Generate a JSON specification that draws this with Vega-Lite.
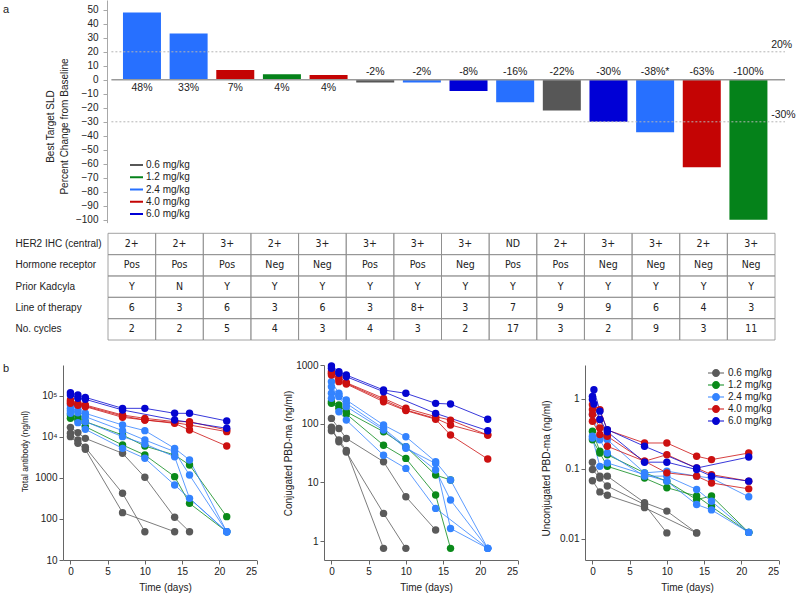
{
  "$schema": "https://vega.github.io/schema/vega-lite/v6.json",
  "autosize": "none",
  "padding": {"left": 63, "top": 0, "right": 737, "bottom": 595},
  "background": "white",
  "datasets": {
    "bars": [
      {"i": 1, "v": 48, "d": "2.4 mg/kg", "lab": "48%"},
      {"i": 2, "v": 33, "d": "2.4 mg/kg", "lab": "33%"},
      {"i": 3, "v": 7, "d": "4.0 mg/kg", "lab": "7%"},
      {"i": 4, "v": 4, "d": "1.2 mg/kg", "lab": "4%"},
      {"i": 5, "v": 3.5, "d": "4.0 mg/kg", "lab": "4%"},
      {"i": 6, "v": -2, "d": "0.6 mg/kg", "lab": "-2%"},
      {"i": 7, "v": -2, "d": "2.4 mg/kg", "lab": "-2%"},
      {"i": 8, "v": -8, "d": "6.0 mg/kg", "lab": "-8%"},
      {"i": 9, "v": -16, "d": "2.4 mg/kg", "lab": "-16%"},
      {"i": 10, "v": -22, "d": "0.6 mg/kg", "lab": "-22%"},
      {"i": 11, "v": -30, "d": "6.0 mg/kg", "lab": "-30%"},
      {"i": 12, "v": -37.5, "d": "2.4 mg/kg", "lab": "-38%*"},
      {"i": 13, "v": -62.5, "d": "4.0 mg/kg", "lab": "-63%"},
      {"i": 14, "v": -100, "d": "1.2 mg/kg", "lab": "-100%"}
    ],
    "refs": [
      {"ref": 20, "lab": "20%"},
      {"ref": -30, "lab": "-30%"},
      {"ref": 0, "lab": ""}
    ],
    "table": [
      {"r": "HER2 IHC (central)", "i": 1, "c": "2+"}, {"r": "HER2 IHC (central)", "i": 2, "c": "2+"},
      {"r": "HER2 IHC (central)", "i": 3, "c": "3+"}, {"r": "HER2 IHC (central)", "i": 4, "c": "2+"},
      {"r": "HER2 IHC (central)", "i": 5, "c": "3+"}, {"r": "HER2 IHC (central)", "i": 6, "c": "3+"},
      {"r": "HER2 IHC (central)", "i": 7, "c": "3+"}, {"r": "HER2 IHC (central)", "i": 8, "c": "3+"},
      {"r": "HER2 IHC (central)", "i": 9, "c": "ND"}, {"r": "HER2 IHC (central)", "i": 10, "c": "2+"},
      {"r": "HER2 IHC (central)", "i": 11, "c": "3+"}, {"r": "HER2 IHC (central)", "i": 12, "c": "3+"},
      {"r": "HER2 IHC (central)", "i": 13, "c": "2+"}, {"r": "HER2 IHC (central)", "i": 14, "c": "3+"},
      {"r": "Hormone receptor", "i": 1, "c": "Pos"}, {"r": "Hormone receptor", "i": 2, "c": "Pos"},
      {"r": "Hormone receptor", "i": 3, "c": "Pos"}, {"r": "Hormone receptor", "i": 4, "c": "Neg"},
      {"r": "Hormone receptor", "i": 5, "c": "Neg"}, {"r": "Hormone receptor", "i": 6, "c": "Pos"},
      {"r": "Hormone receptor", "i": 7, "c": "Pos"}, {"r": "Hormone receptor", "i": 8, "c": "Neg"},
      {"r": "Hormone receptor", "i": 9, "c": "Pos"}, {"r": "Hormone receptor", "i": 10, "c": "Pos"},
      {"r": "Hormone receptor", "i": 11, "c": "Neg"}, {"r": "Hormone receptor", "i": 12, "c": "Neg"},
      {"r": "Hormone receptor", "i": 13, "c": "Neg"}, {"r": "Hormone receptor", "i": 14, "c": "Neg"},
      {"r": "Prior Kadcyla", "i": 1, "c": "Y"}, {"r": "Prior Kadcyla", "i": 2, "c": "N"},
      {"r": "Prior Kadcyla", "i": 3, "c": "Y"}, {"r": "Prior Kadcyla", "i": 4, "c": "Y"},
      {"r": "Prior Kadcyla", "i": 5, "c": "Y"}, {"r": "Prior Kadcyla", "i": 6, "c": "Y"},
      {"r": "Prior Kadcyla", "i": 7, "c": "Y"}, {"r": "Prior Kadcyla", "i": 8, "c": "Y"},
      {"r": "Prior Kadcyla", "i": 9, "c": "Y"}, {"r": "Prior Kadcyla", "i": 10, "c": "Y"},
      {"r": "Prior Kadcyla", "i": 11, "c": "Y"}, {"r": "Prior Kadcyla", "i": 12, "c": "Y"},
      {"r": "Prior Kadcyla", "i": 13, "c": "Y"}, {"r": "Prior Kadcyla", "i": 14, "c": "Y"},
      {"r": "Line of therapy", "i": 1, "c": "6"}, {"r": "Line of therapy", "i": 2, "c": "3"},
      {"r": "Line of therapy", "i": 3, "c": "6"}, {"r": "Line of therapy", "i": 4, "c": "3"},
      {"r": "Line of therapy", "i": 5, "c": "6"}, {"r": "Line of therapy", "i": 6, "c": "3"},
      {"r": "Line of therapy", "i": 7, "c": "8+"}, {"r": "Line of therapy", "i": 8, "c": "3"},
      {"r": "Line of therapy", "i": 9, "c": "7"}, {"r": "Line of therapy", "i": 10, "c": "9"},
      {"r": "Line of therapy", "i": 11, "c": "9"}, {"r": "Line of therapy", "i": 12, "c": "6"},
      {"r": "Line of therapy", "i": 13, "c": "4"}, {"r": "Line of therapy", "i": 14, "c": "3"},
      {"r": "No. cycles", "i": 1, "c": "2"}, {"r": "No. cycles", "i": 2, "c": "2"},
      {"r": "No. cycles", "i": 3, "c": "5"}, {"r": "No. cycles", "i": 4, "c": "4"},
      {"r": "No. cycles", "i": 5, "c": "3"}, {"r": "No. cycles", "i": 6, "c": "4"},
      {"r": "No. cycles", "i": 7, "c": "3"}, {"r": "No. cycles", "i": 8, "c": "2"},
      {"r": "No. cycles", "i": 9, "c": "17"}, {"r": "No. cycles", "i": 10, "c": "3"},
      {"r": "No. cycles", "i": 11, "c": "2"}, {"r": "No. cycles", "i": 12, "c": "9"},
      {"r": "No. cycles", "i": 13, "c": "3"}, {"r": "No. cycles", "i": 14, "c": "11"}
    ],
    "pk": [
      {"a": "T", "p": "K1", "d": "0.6 mg/kg", "t": 0, "v": 17200}, {"a": "T", "p": "K1", "d": "0.6 mg/kg", "t": 1, "v": 12800},
      {"a": "T", "p": "K1", "d": "0.6 mg/kg", "t": 2, "v": 9270}, {"a": "T", "p": "K1", "d": "0.6 mg/kg", "t": 7, "v": 4000},
      {"a": "T", "p": "K1", "d": "0.6 mg/kg", "t": 10, "v": 1040}, {"a": "T", "p": "K1", "d": "0.6 mg/kg", "t": 14, "v": 110},
      {"a": "T", "p": "K1", "d": "0.6 mg/kg", "t": 16, "v": 49},
      {"a": "T", "p": "K2", "d": "0.6 mg/kg", "t": 0, "v": 12300}, {"a": "T", "p": "K2", "d": "0.6 mg/kg", "t": 1, "v": 8450},
      {"a": "T", "p": "K2", "d": "0.6 mg/kg", "t": 2, "v": 5600}, {"a": "T", "p": "K2", "d": "0.6 mg/kg", "t": 7, "v": 423},
      {"a": "T", "p": "K2", "d": "0.6 mg/kg", "t": 10, "v": 49},
      {"a": "T", "p": "K3", "d": "0.6 mg/kg", "t": 0, "v": 10200}, {"a": "T", "p": "K3", "d": "0.6 mg/kg", "t": 1, "v": 7010},
      {"a": "T", "p": "K3", "d": "0.6 mg/kg", "t": 2, "v": 5000}, {"a": "T", "p": "K3", "d": "0.6 mg/kg", "t": 7, "v": 143},
      {"a": "T", "p": "K3", "d": "0.6 mg/kg", "t": 14, "v": 49},
      {"a": "T", "p": "G1", "d": "1.2 mg/kg", "t": 0, "v": 34400}, {"a": "T", "p": "G1", "d": "1.2 mg/kg", "t": 1, "v": 31300},
      {"a": "T", "p": "G1", "d": "1.2 mg/kg", "t": 2, "v": 23700}, {"a": "T", "p": "G1", "d": "1.2 mg/kg", "t": 7, "v": 11200},
      {"a": "T", "p": "G1", "d": "1.2 mg/kg", "t": 10, "v": 6000}, {"a": "T", "p": "G1", "d": "1.2 mg/kg", "t": 14, "v": 3640},
      {"a": "T", "p": "G1", "d": "1.2 mg/kg", "t": 16, "v": 2080}, {"a": "T", "p": "G1", "d": "1.2 mg/kg", "t": 21, "v": 114},
      {"a": "T", "p": "G2", "d": "1.2 mg/kg", "t": 0, "v": 28500}, {"a": "T", "p": "G2", "d": "1.2 mg/kg", "t": 1, "v": 26000},
      {"a": "T", "p": "G2", "d": "1.2 mg/kg", "t": 2, "v": 17900}, {"a": "T", "p": "G2", "d": "1.2 mg/kg", "t": 7, "v": 6380},
      {"a": "T", "p": "G2", "d": "1.2 mg/kg", "t": 10, "v": 3640}, {"a": "T", "p": "G2", "d": "1.2 mg/kg", "t": 14, "v": 1080},
      {"a": "T", "p": "G2", "d": "1.2 mg/kg", "t": 16, "v": 241}, {"a": "T", "p": "G2", "d": "1.2 mg/kg", "t": 21, "v": 49},
      {"a": "T", "p": "B1", "d": "2.4 mg/kg", "t": 0, "v": 60300}, {"a": "T", "p": "B1", "d": "2.4 mg/kg", "t": 1, "v": 54900},
      {"a": "T", "p": "B1", "d": "2.4 mg/kg", "t": 2, "v": 37800}, {"a": "T", "p": "B1", "d": "2.4 mg/kg", "t": 7, "v": 19600},
      {"a": "T", "p": "B1", "d": "2.4 mg/kg", "t": 10, "v": 14300}, {"a": "T", "p": "B1", "d": "2.4 mg/kg", "t": 14, "v": 5290},
      {"a": "T", "p": "B1", "d": "2.4 mg/kg", "t": 16, "v": 2750}, {"a": "T", "p": "B1", "d": "2.4 mg/kg", "t": 21, "v": 49},
      {"a": "T", "p": "B2", "d": "2.4 mg/kg", "t": 0, "v": 50000}, {"a": "T", "p": "B2", "d": "2.4 mg/kg", "t": 1, "v": 43900},
      {"a": "T", "p": "B2", "d": "2.4 mg/kg", "t": 2, "v": 31300}, {"a": "T", "p": "B2", "d": "2.4 mg/kg", "t": 7, "v": 14300},
      {"a": "T", "p": "B2", "d": "2.4 mg/kg", "t": 10, "v": 8450}, {"a": "T", "p": "B2", "d": "2.4 mg/kg", "t": 14, "v": 4390},
      {"a": "T", "p": "B2", "d": "2.4 mg/kg", "t": 16, "v": 1180}, {"a": "T", "p": "B2", "d": "2.4 mg/kg", "t": 21, "v": 49},
      {"a": "T", "p": "B3", "d": "2.4 mg/kg", "t": 0, "v": 43900}, {"a": "T", "p": "B3", "d": "2.4 mg/kg", "t": 1, "v": 39200},
      {"a": "T", "p": "B3", "d": "2.4 mg/kg", "t": 2, "v": 23700}, {"a": "T", "p": "B3", "d": "2.4 mg/kg", "t": 7, "v": 10200},
      {"a": "T", "p": "B3", "d": "2.4 mg/kg", "t": 10, "v": 6750}, {"a": "T", "p": "B3", "d": "2.4 mg/kg", "t": 14, "v": 3310},
      {"a": "T", "p": "B3", "d": "2.4 mg/kg", "t": 16, "v": 319}, {"a": "T", "p": "B3", "d": "2.4 mg/kg", "t": 21, "v": 49},
      {"a": "T", "p": "B4", "d": "2.4 mg/kg", "t": 0, "v": 37800}, {"a": "T", "p": "B4", "d": "2.4 mg/kg", "t": 1, "v": 22400},
      {"a": "T", "p": "B4", "d": "2.4 mg/kg", "t": 2, "v": 15400}, {"a": "T", "p": "B4", "d": "2.4 mg/kg", "t": 7, "v": 5290},
      {"a": "T", "p": "B4", "d": "2.4 mg/kg", "t": 10, "v": 3020}, {"a": "T", "p": "B4", "d": "2.4 mg/kg", "t": 14, "v": 675},
      {"a": "T", "p": "B4", "d": "2.4 mg/kg", "t": 21, "v": 49},
      {"a": "T", "p": "R1", "d": "4.0 mg/kg", "t": 0, "v": 79900}, {"a": "T", "p": "R1", "d": "4.0 mg/kg", "t": 1, "v": 66200},
      {"a": "T", "p": "R1", "d": "4.0 mg/kg", "t": 2, "v": 60300}, {"a": "T", "p": "R1", "d": "4.0 mg/kg", "t": 7, "v": 34400},
      {"a": "T", "p": "R1", "d": "4.0 mg/kg", "t": 10, "v": 28500}, {"a": "T", "p": "R1", "d": "4.0 mg/kg", "t": 14, "v": 23700},
      {"a": "T", "p": "R1", "d": "4.0 mg/kg", "t": 16, "v": 23700}, {"a": "T", "p": "R1", "d": "4.0 mg/kg", "t": 21, "v": 14800},
      {"a": "T", "p": "R2", "d": "4.0 mg/kg", "t": 0, "v": 72800}, {"a": "T", "p": "R2", "d": "4.0 mg/kg", "t": 1, "v": 62600},
      {"a": "T", "p": "R2", "d": "4.0 mg/kg", "t": 2, "v": 57000}, {"a": "T", "p": "R2", "d": "4.0 mg/kg", "t": 7, "v": 32500},
      {"a": "T", "p": "R2", "d": "4.0 mg/kg", "t": 10, "v": 26000}, {"a": "T", "p": "R2", "d": "4.0 mg/kg", "t": 14, "v": 22400},
      {"a": "T", "p": "R2", "d": "4.0 mg/kg", "t": 16, "v": 19600}, {"a": "T", "p": "R2", "d": "4.0 mg/kg", "t": 21, "v": 13500},
      {"a": "T", "p": "R3", "d": "4.0 mg/kg", "t": 0, "v": 66200}, {"a": "T", "p": "R3", "d": "4.0 mg/kg", "t": 1, "v": 59200},
      {"a": "T", "p": "R3", "d": "4.0 mg/kg", "t": 2, "v": 54900}, {"a": "T", "p": "R3", "d": "4.0 mg/kg", "t": 7, "v": 30200},
      {"a": "T", "p": "R3", "d": "4.0 mg/kg", "t": 10, "v": 26000}, {"a": "T", "p": "R3", "d": "4.0 mg/kg", "t": 14, "v": 21500},
      {"a": "T", "p": "R3", "d": "4.0 mg/kg", "t": 16, "v": 14800}, {"a": "T", "p": "R3", "d": "4.0 mg/kg", "t": 21, "v": 6030},
      {"a": "T", "p": "D1", "d": "6.0 mg/kg", "t": 0, "v": 120500}, {"a": "T", "p": "D1", "d": "6.0 mg/kg", "t": 1, "v": 105700},
      {"a": "T", "p": "D1", "d": "6.0 mg/kg", "t": 2, "v": 92700}, {"a": "T", "p": "D1", "d": "6.0 mg/kg", "t": 7, "v": 50000},
      {"a": "T", "p": "D1", "d": "6.0 mg/kg", "t": 10, "v": 50000}, {"a": "T", "p": "D1", "d": "6.0 mg/kg", "t": 14, "v": 37800},
      {"a": "T", "p": "D1", "d": "6.0 mg/kg", "t": 16, "v": 37800}, {"a": "T", "p": "D1", "d": "6.0 mg/kg", "t": 21, "v": 24600},
      {"a": "T", "p": "D2", "d": "6.0 mg/kg", "t": 0, "v": 105700}, {"a": "T", "p": "D2", "d": "6.0 mg/kg", "t": 1, "v": 87700},
      {"a": "T", "p": "D2", "d": "6.0 mg/kg", "t": 2, "v": 83000}, {"a": "T", "p": "D2", "d": "6.0 mg/kg", "t": 7, "v": 45600},
      {"a": "T", "p": "D2", "d": "6.0 mg/kg", "t": 14, "v": 26000}, {"a": "T", "p": "D2", "d": "6.0 mg/kg", "t": 21, "v": 16300},

      {"a": "C", "p": "K1", "d": "0.6 mg/kg", "t": 0, "v": 123}, {"a": "C", "p": "K1", "d": "0.6 mg/kg", "t": 1, "v": 83},
      {"a": "C", "p": "K1", "d": "0.6 mg/kg", "t": 2, "v": 56}, {"a": "C", "p": "K1", "d": "0.6 mg/kg", "t": 7, "v": 22.5},
      {"a": "C", "p": "K1", "d": "0.6 mg/kg", "t": 10, "v": 5.7}, {"a": "C", "p": "K1", "d": "0.6 mg/kg", "t": 14, "v": 1.54},
      {"a": "C", "p": "K2", "d": "0.6 mg/kg", "t": 0, "v": 87}, {"a": "C", "p": "K2", "d": "0.6 mg/kg", "t": 1, "v": 49},
      {"a": "C", "p": "K2", "d": "0.6 mg/kg", "t": 2, "v": 33}, {"a": "C", "p": "K2", "d": "0.6 mg/kg", "t": 7, "v": 2.96},
      {"a": "C", "p": "K2", "d": "0.6 mg/kg", "t": 10, "v": 0.75},
      {"a": "C", "p": "K3", "d": "0.6 mg/kg", "t": 0, "v": 76}, {"a": "C", "p": "K3", "d": "0.6 mg/kg", "t": 1, "v": 53},
      {"a": "C", "p": "K3", "d": "0.6 mg/kg", "t": 2, "v": 35}, {"a": "C", "p": "K3", "d": "0.6 mg/kg", "t": 7, "v": 0.75},
      {"a": "C", "p": "G1", "d": "1.2 mg/kg", "t": 0, "v": 237}, {"a": "C", "p": "G1", "d": "1.2 mg/kg", "t": 1, "v": 208},
      {"a": "C", "p": "G1", "d": "1.2 mg/kg", "t": 2, "v": 160}, {"a": "C", "p": "G1", "d": "1.2 mg/kg", "t": 7, "v": 73},
      {"a": "C", "p": "G1", "d": "1.2 mg/kg", "t": 10, "v": 40.5}, {"a": "C", "p": "G1", "d": "1.2 mg/kg", "t": 14, "v": 13.3},
      {"a": "C", "p": "G1", "d": "1.2 mg/kg", "t": 16, "v": 11},
      {"a": "C", "p": "G2", "d": "1.2 mg/kg", "t": 0, "v": 222}, {"a": "C", "p": "G2", "d": "1.2 mg/kg", "t": 1, "v": 183},
      {"a": "C", "p": "G2", "d": "1.2 mg/kg", "t": 2, "v": 146}, {"a": "C", "p": "G2", "d": "1.2 mg/kg", "t": 7, "v": 43},
      {"a": "C", "p": "G2", "d": "1.2 mg/kg", "t": 10, "v": 25.6}, {"a": "C", "p": "G2", "d": "1.2 mg/kg", "t": 14, "v": 6.1},
      {"a": "C", "p": "G2", "d": "1.2 mg/kg", "t": 16, "v": 0.75},
      {"a": "C", "p": "B1", "d": "2.4 mg/kg", "t": 0, "v": 520}, {"a": "C", "p": "B1", "d": "2.4 mg/kg", "t": 1, "v": 329},
      {"a": "C", "p": "B1", "d": "2.4 mg/kg", "t": 2, "v": 253}, {"a": "C", "p": "B1", "d": "2.4 mg/kg", "t": 7, "v": 95},
      {"a": "C", "p": "B1", "d": "2.4 mg/kg", "t": 10, "v": 60}, {"a": "C", "p": "B1", "d": "2.4 mg/kg", "t": 14, "v": 22.5},
      {"a": "C", "p": "B1", "d": "2.4 mg/kg", "t": 16, "v": 11}, {"a": "C", "p": "B1", "d": "2.4 mg/kg", "t": 21, "v": 0.75},
      {"a": "C", "p": "B2", "d": "2.4 mg/kg", "t": 0, "v": 427}, {"a": "C", "p": "B2", "d": "2.4 mg/kg", "t": 1, "v": 308},
      {"a": "C", "p": "B2", "d": "2.4 mg/kg", "t": 2, "v": 222}, {"a": "C", "p": "B2", "d": "2.4 mg/kg", "t": 7, "v": 83},
      {"a": "C", "p": "B2", "d": "2.4 mg/kg", "t": 10, "v": 40.5}, {"a": "C", "p": "B2", "d": "2.4 mg/kg", "t": 14, "v": 16.2},
      {"a": "C", "p": "B2", "d": "2.4 mg/kg", "t": 16, "v": 5.0}, {"a": "C", "p": "B2", "d": "2.4 mg/kg", "t": 21, "v": 0.75},
      {"a": "C", "p": "B3", "d": "2.4 mg/kg", "t": 0, "v": 329}, {"a": "C", "p": "B3", "d": "2.4 mg/kg", "t": 1, "v": 289},
      {"a": "C", "p": "B3", "d": "2.4 mg/kg", "t": 2, "v": 195}, {"a": "C", "p": "B3", "d": "2.4 mg/kg", "t": 7, "v": 78},
      {"a": "C", "p": "B3", "d": "2.4 mg/kg", "t": 10, "v": 38}, {"a": "C", "p": "B3", "d": "2.4 mg/kg", "t": 14, "v": 21},
      {"a": "C", "p": "B3", "d": "2.4 mg/kg", "t": 16, "v": 1.64}, {"a": "C", "p": "B3", "d": "2.4 mg/kg", "t": 21, "v": 0.75},
      {"a": "C", "p": "B4", "d": "2.4 mg/kg", "t": 0, "v": 270}, {"a": "C", "p": "B4", "d": "2.4 mg/kg", "t": 1, "v": 160},
      {"a": "C", "p": "B4", "d": "2.4 mg/kg", "t": 2, "v": 115}, {"a": "C", "p": "B4", "d": "2.4 mg/kg", "t": 7, "v": 29},
      {"a": "C", "p": "B4", "d": "2.4 mg/kg", "t": 10, "v": 17.3}, {"a": "C", "p": "B4", "d": "2.4 mg/kg", "t": 14, "v": 3.6},
      {"a": "C", "p": "B4", "d": "2.4 mg/kg", "t": 21, "v": 0.75},
      {"a": "C", "p": "R1", "d": "4.0 mg/kg", "t": 0, "v": 769}, {"a": "C", "p": "R1", "d": "4.0 mg/kg", "t": 1, "v": 632},
      {"a": "C", "p": "R1", "d": "4.0 mg/kg", "t": 2, "v": 500}, {"a": "C", "p": "R1", "d": "4.0 mg/kg", "t": 7, "v": 270},
      {"a": "C", "p": "R1", "d": "4.0 mg/kg", "t": 10, "v": 183}, {"a": "C", "p": "R1", "d": "4.0 mg/kg", "t": 14, "v": 132},
      {"a": "C", "p": "R1", "d": "4.0 mg/kg", "t": 16, "v": 115}, {"a": "C", "p": "R1", "d": "4.0 mg/kg", "t": 21, "v": 64},
      {"a": "C", "p": "R2", "d": "4.0 mg/kg", "t": 0, "v": 721}, {"a": "C", "p": "R2", "d": "4.0 mg/kg", "t": 1, "v": 570},
      {"a": "C", "p": "R2", "d": "4.0 mg/kg", "t": 2, "v": 487}, {"a": "C", "p": "R2", "d": "4.0 mg/kg", "t": 7, "v": 253},
      {"a": "C", "p": "R2", "d": "4.0 mg/kg", "t": 10, "v": 171}, {"a": "C", "p": "R2", "d": "4.0 mg/kg", "t": 14, "v": 123},
      {"a": "C", "p": "R2", "d": "4.0 mg/kg", "t": 16, "v": 95}, {"a": "C", "p": "R2", "d": "4.0 mg/kg", "t": 21, "v": 64},
      {"a": "C", "p": "R3", "d": "4.0 mg/kg", "t": 0, "v": 675}, {"a": "C", "p": "R3", "d": "4.0 mg/kg", "t": 1, "v": 520},
      {"a": "C", "p": "R3", "d": "4.0 mg/kg", "t": 2, "v": 474}, {"a": "C", "p": "R3", "d": "4.0 mg/kg", "t": 7, "v": 237},
      {"a": "C", "p": "R3", "d": "4.0 mg/kg", "t": 10, "v": 167}, {"a": "C", "p": "R3", "d": "4.0 mg/kg", "t": 14, "v": 119},
      {"a": "C", "p": "R3", "d": "4.0 mg/kg", "t": 16, "v": 64}, {"a": "C", "p": "R3", "d": "4.0 mg/kg", "t": 21, "v": 25},
      {"a": "C", "p": "D1", "d": "6.0 mg/kg", "t": 0, "v": 961}, {"a": "C", "p": "D1", "d": "6.0 mg/kg", "t": 1, "v": 769},
      {"a": "C", "p": "D1", "d": "6.0 mg/kg", "t": 2, "v": 675}, {"a": "C", "p": "D1", "d": "6.0 mg/kg", "t": 7, "v": 375},
      {"a": "C", "p": "D1", "d": "6.0 mg/kg", "t": 10, "v": 329}, {"a": "C", "p": "D1", "d": "6.0 mg/kg", "t": 14, "v": 222},
      {"a": "C", "p": "D1", "d": "6.0 mg/kg", "t": 16, "v": 216}, {"a": "C", "p": "D1", "d": "6.0 mg/kg", "t": 21, "v": 119},
      {"a": "C", "p": "D2", "d": "6.0 mg/kg", "t": 0, "v": 877}, {"a": "C", "p": "D2", "d": "6.0 mg/kg", "t": 1, "v": 721},
      {"a": "C", "p": "D2", "d": "6.0 mg/kg", "t": 2, "v": 632}, {"a": "C", "p": "D2", "d": "6.0 mg/kg", "t": 7, "v": 351},
      {"a": "C", "p": "D2", "d": "6.0 mg/kg", "t": 14, "v": 150}, {"a": "C", "p": "D2", "d": "6.0 mg/kg", "t": 21, "v": 76},

      {"a": "U", "p": "K1", "d": "0.6 mg/kg", "t": 0, "v": 0.125}, {"a": "U", "p": "K1", "d": "0.6 mg/kg", "t": 1, "v": 0.079},
      {"a": "U", "p": "K1", "d": "0.6 mg/kg", "t": 2, "v": 0.079}, {"a": "U", "p": "K1", "d": "0.6 mg/kg", "t": 7, "v": 0.033},
      {"a": "U", "p": "K1", "d": "0.6 mg/kg", "t": 10, "v": 0.025}, {"a": "U", "p": "K1", "d": "0.6 mg/kg", "t": 14, "v": 0.0122},
      {"a": "U", "p": "K2", "d": "0.6 mg/kg", "t": 0, "v": 0.098}, {"a": "U", "p": "K2", "d": "0.6 mg/kg", "t": 1, "v": 0.074},
      {"a": "U", "p": "K2", "d": "0.6 mg/kg", "t": 2, "v": 0.057}, {"a": "U", "p": "K2", "d": "0.6 mg/kg", "t": 7, "v": 0.031},
      {"a": "U", "p": "K2", "d": "0.6 mg/kg", "t": 10, "v": 0.0122},
      {"a": "U", "p": "K3", "d": "0.6 mg/kg", "t": 0, "v": 0.068}, {"a": "U", "p": "K3", "d": "0.6 mg/kg", "t": 1, "v": 0.047},
      {"a": "U", "p": "K3", "d": "0.6 mg/kg", "t": 2, "v": 0.042}, {"a": "U", "p": "K3", "d": "0.6 mg/kg", "t": 7, "v": 0.028},
      {"a": "U", "p": "K3", "d": "0.6 mg/kg", "t": 14, "v": 0.0122},
      {"a": "U", "p": "G1", "d": "1.2 mg/kg", "t": 0, "v": 0.345}, {"a": "U", "p": "G1", "d": "1.2 mg/kg", "t": 1, "v": 0.179},
      {"a": "U", "p": "G1", "d": "1.2 mg/kg", "t": 2, "v": 0.16}, {"a": "U", "p": "G1", "d": "1.2 mg/kg", "t": 7, "v": 0.088},
      {"a": "U", "p": "G1", "d": "1.2 mg/kg", "t": 10, "v": 0.067}, {"a": "U", "p": "G1", "d": "1.2 mg/kg", "t": 14, "v": 0.0365},
      {"a": "U", "p": "G1", "d": "1.2 mg/kg", "t": 16, "v": 0.041}, {"a": "U", "p": "G1", "d": "1.2 mg/kg", "t": 21, "v": 0.0124},
      {"a": "U", "p": "G2", "d": "1.2 mg/kg", "t": 0, "v": 0.262}, {"a": "U", "p": "G2", "d": "1.2 mg/kg", "t": 1, "v": 0.169},
      {"a": "U", "p": "G2", "d": "1.2 mg/kg", "t": 2, "v": 0.109}, {"a": "U", "p": "G2", "d": "1.2 mg/kg", "t": 7, "v": 0.074},
      {"a": "U", "p": "G2", "d": "1.2 mg/kg", "t": 10, "v": 0.054}, {"a": "U", "p": "G2", "d": "1.2 mg/kg", "t": 14, "v": 0.041},
      {"a": "U", "p": "G2", "d": "1.2 mg/kg", "t": 16, "v": 0.029}, {"a": "U", "p": "G2", "d": "1.2 mg/kg", "t": 21, "v": 0.0124},
      {"a": "U", "p": "B1", "d": "2.4 mg/kg", "t": 0, "v": 0.6}, {"a": "U", "p": "B1", "d": "2.4 mg/kg", "t": 1, "v": 0.293},
      {"a": "U", "p": "B1", "d": "2.4 mg/kg", "t": 2, "v": 0.262}, {"a": "U", "p": "B1", "d": "2.4 mg/kg", "t": 7, "v": 0.088},
      {"a": "U", "p": "B1", "d": "2.4 mg/kg", "t": 10, "v": 0.093}, {"a": "U", "p": "B1", "d": "2.4 mg/kg", "t": 14, "v": 0.079},
      {"a": "U", "p": "B1", "d": "2.4 mg/kg", "t": 16, "v": 0.074}, {"a": "U", "p": "B1", "d": "2.4 mg/kg", "t": 21, "v": 0.04},
      {"a": "U", "p": "B2", "d": "2.4 mg/kg", "t": 0, "v": 0.293}, {"a": "U", "p": "B2", "d": "2.4 mg/kg", "t": 1, "v": 0.262},
      {"a": "U", "p": "B2", "d": "2.4 mg/kg", "t": 2, "v": 0.169}, {"a": "U", "p": "B2", "d": "2.4 mg/kg", "t": 7, "v": 0.079},
      {"a": "U", "p": "B2", "d": "2.4 mg/kg", "t": 10, "v": 0.079}, {"a": "U", "p": "B2", "d": "2.4 mg/kg", "t": 14, "v": 0.051},
      {"a": "U", "p": "B2", "d": "2.4 mg/kg", "t": 16, "v": 0.0345}, {"a": "U", "p": "B2", "d": "2.4 mg/kg", "t": 21, "v": 0.0124},
      {"a": "U", "p": "B3", "d": "2.4 mg/kg", "t": 0, "v": 0.277}, {"a": "U", "p": "B3", "d": "2.4 mg/kg", "t": 1, "v": 0.109},
      {"a": "U", "p": "B3", "d": "2.4 mg/kg", "t": 2, "v": 0.122}, {"a": "U", "p": "B3", "d": "2.4 mg/kg", "t": 7, "v": 0.083},
      {"a": "U", "p": "B3", "d": "2.4 mg/kg", "t": 10, "v": 0.067}, {"a": "U", "p": "B3", "d": "2.4 mg/kg", "t": 14, "v": 0.031},
      {"a": "U", "p": "B3", "d": "2.4 mg/kg", "t": 16, "v": 0.026}, {"a": "U", "p": "B3", "d": "2.4 mg/kg", "t": 21, "v": 0.0124},
      {"a": "U", "p": "R1", "d": "4.0 mg/kg", "t": 0, "v": 0.83}, {"a": "U", "p": "R1", "d": "4.0 mg/kg", "t": 1, "v": 0.7},
      {"a": "U", "p": "R1", "d": "4.0 mg/kg", "t": 2, "v": 0.36}, {"a": "U", "p": "R1", "d": "4.0 mg/kg", "t": 7, "v": 0.235},
      {"a": "U", "p": "R1", "d": "4.0 mg/kg", "t": 10, "v": 0.235}, {"a": "U", "p": "R1", "d": "4.0 mg/kg", "t": 14, "v": 0.152},
      {"a": "U", "p": "R1", "d": "4.0 mg/kg", "t": 16, "v": 0.136}, {"a": "U", "p": "R1", "d": "4.0 mg/kg", "t": 21, "v": 0.169},
      {"a": "U", "p": "R2", "d": "4.0 mg/kg", "t": 0, "v": 0.7}, {"a": "U", "p": "R2", "d": "4.0 mg/kg", "t": 1, "v": 0.51},
      {"a": "U", "p": "R2", "d": "4.0 mg/kg", "t": 2, "v": 0.293}, {"a": "U", "p": "R2", "d": "4.0 mg/kg", "t": 7, "v": 0.129},
      {"a": "U", "p": "R2", "d": "4.0 mg/kg", "t": 10, "v": 0.16}, {"a": "U", "p": "R2", "d": "4.0 mg/kg", "t": 14, "v": 0.103},
      {"a": "U", "p": "R2", "d": "4.0 mg/kg", "t": 16, "v": 0.083}, {"a": "U", "p": "R2", "d": "4.0 mg/kg", "t": 21, "v": 0.067},
      {"a": "U", "p": "R3", "d": "4.0 mg/kg", "t": 0, "v": 0.6}, {"a": "U", "p": "R3", "d": "4.0 mg/kg", "t": 1, "v": 0.385},
      {"a": "U", "p": "R3", "d": "4.0 mg/kg", "t": 2, "v": 0.211}, {"a": "U", "p": "R3", "d": "4.0 mg/kg", "t": 7, "v": 0.129},
      {"a": "U", "p": "R3", "d": "4.0 mg/kg", "t": 10, "v": 0.088}, {"a": "U", "p": "R3", "d": "4.0 mg/kg", "t": 14, "v": 0.079},
      {"a": "U", "p": "R3", "d": "4.0 mg/kg", "t": 16, "v": 0.063}, {"a": "U", "p": "R3", "d": "4.0 mg/kg", "t": 21, "v": 0.052},
      {"a": "U", "p": "R4", "d": "4.0 mg/kg", "t": 0, "v": 0.48}, {"a": "U", "p": "R4", "d": "4.0 mg/kg", "t": 1, "v": 0.31},
      {"a": "U", "p": "R4", "d": "4.0 mg/kg", "t": 2, "v": 0.3},
      {"a": "U", "p": "D1", "d": "6.0 mg/kg", "t": 0, "v": 1.09}, {"a": "U", "p": "D1", "d": "6.0 mg/kg", "t": 0.2, "v": 1.36},
      {"a": "U", "p": "D1", "d": "6.0 mg/kg", "t": 1, "v": 0.67}, {"a": "U", "p": "D1", "d": "6.0 mg/kg", "t": 2, "v": 0.365},
      {"a": "U", "p": "D1", "d": "6.0 mg/kg", "t": 7, "v": 0.211}, {"a": "U", "p": "D1", "d": "6.0 mg/kg", "t": 14, "v": 0.103},
      {"a": "U", "p": "D1", "d": "6.0 mg/kg", "t": 21, "v": 0.148},
      {"a": "U", "p": "D2", "d": "6.0 mg/kg", "t": 0, "v": 0.98}, {"a": "U", "p": "D2", "d": "6.0 mg/kg", "t": 0.2, "v": 0.85},
      {"a": "U", "p": "D2", "d": "6.0 mg/kg", "t": 1, "v": 0.51}, {"a": "U", "p": "D2", "d": "6.0 mg/kg", "t": 2, "v": 0.34},
      {"a": "U", "p": "D2", "d": "6.0 mg/kg", "t": 7, "v": 0.125}, {"a": "U", "p": "D2", "d": "6.0 mg/kg", "t": 10, "v": 0.125},
      {"a": "U", "p": "D2", "d": "6.0 mg/kg", "t": 14, "v": 0.098}, {"a": "U", "p": "D2", "d": "6.0 mg/kg", "t": 16, "v": 0.079},
      {"a": "U", "p": "D2", "d": "6.0 mg/kg", "t": 21, "v": 0.067}
    ]
  },
  "spacing": 25,
  "bounds": "flush",
  "resolve": {"scale": {"color": "independent"}, "legend": {"color": "independent"}},
  "vconcat": [
    {
      "width": 727,
      "height": 340,
      "title": {"text": "a", "anchor": "start", "frame": "group", "dx": -60, "dy": 15, "offset": 0},
      "resolve": {"scale": {"x": "independent", "y": "independent"}},
      "layer": [
        {
          "layer": [
            {
              "data": {"name": "bars"},
              "mark": {"type": "bar", "size": 38},
              "encoding": {
                "x": {"field": "i", "type": "quantitative", "scale": {"domain": [-0.5856, 14.784], "nice": false, "zero": false}, "axis": null},
                "y": {
                  "field": "v", "type": "quantitative",
                  "scale": {"domain": [-102, 57], "range": [222.6, 0], "nice": false, "zero": false},
                  "axis": {
                    "values": [50, 40, 30, 20, 10, 0, -10, -20, -30, -40, -50, -60, -70, -80, -90, -100],
                    "labelOverlap": false, "labelFlush": false,
                    "offset": -44, "domainColor": "#a8a8a8", "tickColor": "#a8a8a8", "tickSize": 4, "labelPadding": 5,
                    "title": ["Best Target SLD", "Percent Change from Baseline"],
                    "titleX": -57, "titleY": 126, "titleBaseline": "middle", "titleLineHeight": 14
                  }
                },
                "color": {
                  "field": "d", "type": "nominal",
                  "scale": {"domain": ["0.6 mg/kg", "1.2 mg/kg", "2.4 mg/kg", "4.0 mg/kg", "6.0 mg/kg"], "range": ["#575757", "#05821a", "#2770ff", "#c40404", "#0000d6"]},
                  "legend": {"orient": "none", "legendX": 68.5, "legendY": 160, "title": null, "padding": 0, "symbolType": "M-1.3,-0.2H1.3V0.2H-1.3Z", "symbolSize": 100, "symbolStrokeWidth": 0, "labelOffset": 4.5, "rowPadding": 2.25, "labelFontSize": 10}
                }
              }
            },
            {
              "data": {"name": "refs"},
              "mark": {"type": "rule"},
              "encoding": {
                "x": {"datum": 0.3446, "type": "quantitative"},
                "x2": {"datum": 14.784},
                "y": {"field": "ref", "type": "quantitative", "axis": {"values": [50, 40, 30, 20, 10, 0, -10, -20, -30, -40, -50, -60, -70, -80, -90, -100], "labelOverlap": false}},
                "color": {"condition": {"test": "datum.ref == 0", "value": "#9a9a9a"}, "value": "#b4b4b4"},
                "strokeDash": {"condition": {"test": "datum.ref == 0", "value": [1, 0]}, "value": [2, 2]},
                "strokeWidth": {"condition": {"test": "datum.ref == 0", "value": 1.5}, "value": 1}
              }
            },
            {
              "data": {"name": "refs"},
              "transform": [{"filter": "datum.lab != ''"}],
              "mark": {"type": "text", "align": "left", "dy": -7, "fontSize": 10.5, "color": "#222"},
              "encoding": {
                "x": {"datum": 14.488, "type": "quantitative"},
                "y": {"field": "ref", "type": "quantitative", "axis": {"values": [50, 40, 30, 20, 10, 0, -10, -20, -30, -40, -50, -60, -70, -80, -90, -100], "labelOverlap": false}},
                "text": {"field": "lab"}
              }
            },
            {
              "data": {"name": "bars"},
              "transform": [{"filter": "datum.v > 0"}],
              "mark": {"type": "text", "dy": 8.5, "fontSize": 10.5, "color": "#222"},
              "encoding": {
                "x": {"field": "i", "type": "quantitative"},
                "y": {"datum": 0, "type": "quantitative", "axis": {"values": [50, 40, 30, 20, 10, 0, -10, -20, -30, -40, -50, -60, -70, -80, -90, -100], "labelOverlap": false}},
                "text": {"field": "lab"}
              }
            },
            {
              "data": {"name": "bars"},
              "transform": [{"filter": "datum.v < 0"}],
              "mark": {"type": "text", "dy": -7.5, "fontSize": 10.5, "color": "#222"},
              "encoding": {
                "x": {"field": "i", "type": "quantitative"},
                "y": {"datum": 0, "type": "quantitative", "axis": {"values": [50, 40, 30, 20, 10, 0, -10, -20, -30, -40, -50, -60, -70, -80, -90, -100], "labelOverlap": false}},
                "text": {"field": "lab"}
              }
            }
          ]
        },
        {
          "data": {"name": "table"},
          "layer": [
            {
              "mark": {"type": "rect", "fillOpacity": 0, "stroke": "#8c8c8c", "strokeWidth": 0.8},
              "encoding": {
                "x": {"field": "i", "type": "ordinal", "scale": {"range": [45, 712], "paddingInner": 0, "paddingOuter": 0}, "axis": null},
                "y": {
                  "field": "r", "type": "nominal",
                  "sort": ["HER2 IHC (central)", "Hormone receptor", "Prior Kadcyla", "Line of therapy", "No. cycles"],
                  "scale": {"range": [233.3, 340], "paddingInner": 0, "paddingOuter": 0},
                  "axis": {"orient": "left", "title": null, "domain": false, "ticks": false, "tickSize": 0, "labelAlign": "left", "labelPadding": 48, "labelFontSize": 10, "labelColor": "#222"}
                }
              }
            },
            {
              "mark": {"type": "text", "font": "Liberation Sans Narrow, DejaVu Sans Condensed, Liberation Sans", "fontSize": 10.5, "color": "#222"},
              "encoding": {
                "x": {"field": "i", "type": "ordinal"},
                "y": {"field": "r", "type": "nominal", "sort": ["HER2 IHC (central)", "Hormone receptor", "Prior Kadcyla", "Line of therapy", "No. cycles"]},
                "text": {"field": "c"}
              }
            }
          ]
        }
      ]
    },
    {
      "spacing": 67,
      "bounds": "flush",
      "resolve": {"scale": {"color": "independent", "stroke": "independent"}, "legend": {"color": "independent", "stroke": "independent"}},
      "hconcat": [
        {
          "width": 193.5,
          "height": 195,
          "title": {"text": "b", "anchor": "start", "frame": "group", "dx": -60, "dy": 9, "offset": 0},
          "data": {"name": "pk"},
          "transform": [{"filter": "datum.a == 'T'"}],
          "encoding": {
            "x": {"field": "t", "type": "quantitative", "scale": {"domain": [-1, 25], "nice": false, "zero": false},
              "axis": {"values": [0, 5, 10, 15, 20, 25], "title": "Time (days)", "titleX": 102, "titleY": 27, "titleBaseline": "middle", "tickSize": 4}},
            "y": {"field": "v", "type": "quantitative", "scale": {"type": "log", "domain": [10, 570000], "nice": false},
              "axis": {"values": [10, 100, 1000, 10000, 100000], "labelExpr": "datum.value == 100000 ? '10⁵' : datum.value == 10000 ? '10⁴' : format(datum.value, 'd')", "title": "Total antibody (ng/ml)", "titleFontSize": 8.5, "titleX": -39, "titleY": 86, "titleBaseline": "middle", "tickSize": 4, "labelPadding": 2}}
          },
          "layer": [
            {"mark": {"type": "line", "strokeWidth": 0.8},
             "encoding": {"detail": {"field": "p"}, "stroke": {"field": "d", "type": "nominal", "scale": {"domain": ["0.6 mg/kg", "1.2 mg/kg", "2.4 mg/kg", "4.0 mg/kg", "6.0 mg/kg"], "range": ["#5a5a5a", "#0a8a1a", "#3383ff", "#cc1010", "#0505d0"]}, "legend": null}}},
            {"mark": {"type": "circle", "size": 55, "opacity": 1},
             "encoding": {"color": {"field": "d", "type": "nominal", "scale": {"domain": ["0.6 mg/kg", "1.2 mg/kg", "2.4 mg/kg", "4.0 mg/kg", "6.0 mg/kg"], "range": ["#5a5a5a", "#0a8a1a", "#3383ff", "#cc1010", "#0505d0"]}, "legend": null}}}
          ]
        },
        {
          "width": 193.5,
          "height": 195,
          "data": {"name": "pk"},
          "transform": [{"filter": "datum.a == 'C'"}],
          "encoding": {
            "x": {"field": "t", "type": "quantitative", "scale": {"domain": [-1, 25], "nice": false, "zero": false},
              "axis": {"values": [0, 5, 10, 15, 20, 25], "title": "Time (days)", "titleX": 102, "titleY": 27, "titleBaseline": "middle", "tickSize": 4}},
            "y": {"field": "v", "type": "quantitative", "scale": {"type": "log", "domain": [0.475, 1000], "nice": false},
              "axis": {"values": [1, 10, 100, 1000], "format": "d", "title": "Conjugated PBD-ma (ng/ml)", "titleX": -35.5, "titleY": 88, "titleBaseline": "middle", "tickSize": 4, "labelPadding": 2}}
          },
          "layer": [
            {"mark": {"type": "line", "strokeWidth": 0.8},
             "encoding": {"detail": {"field": "p"}, "stroke": {"field": "d", "type": "nominal", "scale": {"domain": ["0.6 mg/kg", "1.2 mg/kg", "2.4 mg/kg", "4.0 mg/kg", "6.0 mg/kg"], "range": ["#5a5a5a", "#0a8a1a", "#3383ff", "#cc1010", "#0505d0"]}, "legend": null}}},
            {"mark": {"type": "circle", "size": 55, "opacity": 1},
             "encoding": {"color": {"field": "d", "type": "nominal", "scale": {"domain": ["0.6 mg/kg", "1.2 mg/kg", "2.4 mg/kg", "4.0 mg/kg", "6.0 mg/kg"], "range": ["#5a5a5a", "#0a8a1a", "#3383ff", "#cc1010", "#0505d0"]}, "legend": null}}}
          ]
        },
        {
          "width": 193.5,
          "height": 195,
          "data": {"name": "pk"},
          "transform": [{"filter": "datum.a == 'U'"}],
          "encoding": {
            "x": {"field": "t", "type": "quantitative", "scale": {"domain": [-1, 25], "nice": false, "zero": false},
              "axis": {"values": [0, 5, 10, 15, 20, 25], "title": "Time (days)", "titleX": 102, "titleY": 27, "titleBaseline": "middle", "tickSize": 4}},
            "y": {"field": "v", "type": "quantitative", "scale": {"type": "log", "domain": [0.005, 3.06], "nice": false},
              "axis": {"values": [0.01, 0.1, 1], "format": "~g", "title": "Unconjugated PBD-ma (ng/ml)", "titleX": -39, "titleY": 103, "titleBaseline": "middle", "tickSize": 4, "labelPadding": 2}}
          },
          "layer": [
            {"mark": {"type": "line", "strokeWidth": 0.8},
             "encoding": {"detail": {"field": "p"}, "color": {"field": "d", "type": "nominal", "scale": {"domain": ["0.6 mg/kg", "1.2 mg/kg", "2.4 mg/kg", "4.0 mg/kg", "6.0 mg/kg"], "range": ["#5a5a5a", "#0a8a1a", "#3383ff", "#cc1010", "#0505d0"]}}}},
            {"mark": {"type": "circle", "size": 55, "opacity": 1},
             "encoding": {"color": {"field": "d", "type": "nominal",
               "legend": {"orient": "none", "legendX": 126, "legendY": 3, "title": null, "padding": 0, "symbolType": "M-1.6,-0.1H1.6V0.1H-1.6Z M0.8,0A0.8,0.8,0,1,1,-0.8,0A0.8,0.8,0,1,1,0.8,0Z", "symbolSize": 100, "symbolStrokeWidth": 0, "symbolFillColor": "#888", "labelOffset": 7, "rowPadding": 2, "labelFontSize": 10}}}}
          ]
        }
      ]
    }
  ],
  "config": {
    "font": "Liberation Sans",
    "view": {"stroke": null},
    "axis": {"grid": false, "labelOverlap": false, "domainColor": "#666", "tickColor": "#666", "labelColor": "#222", "titleColor": "#222", "labelFontSize": 10, "titleFontSize": 10, "titleFontWeight": "normal"},
    "legend": {"labelColor": "#222", "labelFontSize": 10},
    "title": {"fontSize": 11, "fontWeight": "normal", "color": "#222"}
  }
}
